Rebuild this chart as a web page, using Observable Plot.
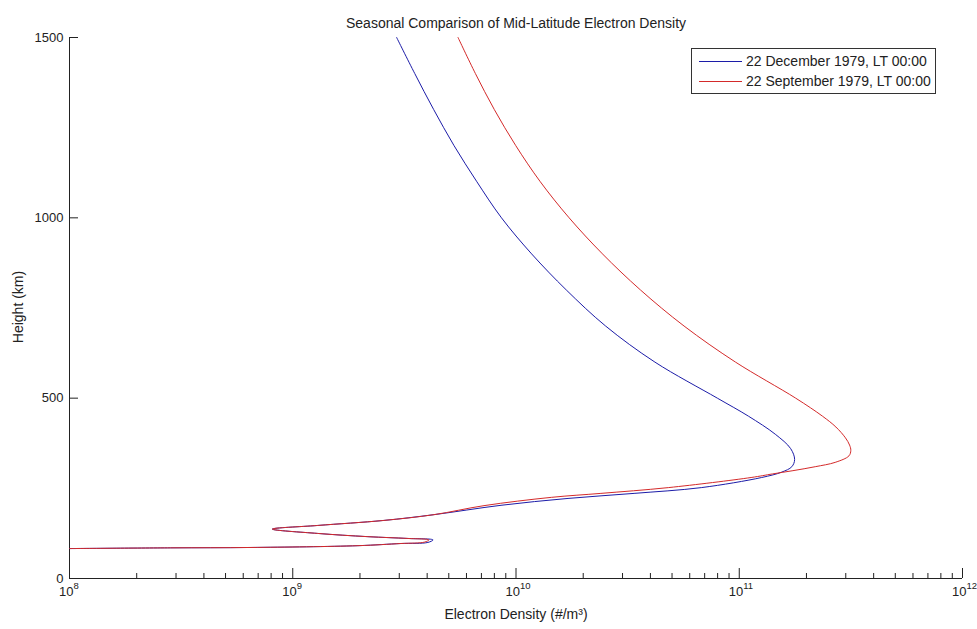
<!DOCTYPE html>
<html>
<head>
<meta charset="utf-8">
<script src="https://cdn.jsdelivr.net/npm/d3@7"></script>
<script src="https://cdn.jsdelivr.net/npm/@observablehq/plot@0.6"></script>
<style>
  html, body { margin: 0; padding: 0; background: #fff; }
  #wrap { position: relative; width: 977px; height: 629px; font-family: "Liberation Sans", Arial, sans-serif; color: #222; }
  #legend { position: absolute; left: 691px; top: 48px; width: 245px; height: 46px; border: 1px solid #333; background: #fff; box-sizing: border-box; font-size: 14px; }
  .item { position: absolute; left: 7px; height: 16px; display: flex; align-items: center; white-space: nowrap; }
  .item svg { margin-right: 4px; }
  #ylab { position: absolute; left: 18px; top: 307px; transform: translate(-50%, -50%) rotate(-90deg); font-size: 14px; white-space: nowrap; line-height: 16px; }
</style>
</head>
<body>
<div id="wrap"></div>
<script>
// ---- data ----
const title = "Seasonal Comparison of Mid-Latitude Electron Density";
const xLabel = "Electron Density (#/m³)";
const yLabel = "Height (km)";
const seriesNames = ["22 December 1979, LT 00:00", "22 September 1979, LT 00:00"];
const seriesColors = ["#1c1ca8", "#d42a2a"];

const decDensity = [2.92e9, 3.52e9, 4.28e9, 5.28e9, 6.68e9, 8.61e9, 1.175e10, 1.68e10, 2.52e10, 4.19e10, 7.98e10, 1.10e11, 1.45e11, 1.70e11, 1.77e11, 1.72e11, 1.55e11, 1.26e11, 6.76e10, 3.38e10, 1.71e10, 8.57e9, 4.29e9, 2.56e9, 1.29e9, 8.1e8, 1.29e9, 2.17e9, 3.28e9, 4.25e9, 4.03e9, 3.05e9, 1.96e9, 6.5e8, 2.84e8, 1e8];
const decHeight  = [1500, 1400, 1300, 1200, 1100, 1000, 900, 800, 700, 600, 500, 450, 400, 360, 330, 310, 295, 280, 252, 236, 222, 203, 177, 161, 147, 137, 125, 116, 111, 107, 100, 97, 91, 86, 85, 83];

const sepDensity = [5.50e9, 6.58e9, 8.00e9, 9.98e9, 1.285e10, 1.73e10, 2.44e10, 3.61e10, 5.66e10, 9.62e10, 1.79e11, 2.36e11, 2.71e11, 2.99e11, 3.12e11, 3.16e11, 3.10e11, 2.69e11, 2.19e11, 1.74e11, 1.41e11, 1.13e11, 4.81e10, 2.40e10, 1.44e10, 7.19e9, 4.29e9, 2.56e9, 1.29e9, 8.1e8, 1.29e9, 2.17e9, 3.28e9, 4.07e9, 3.9e9, 3.05e9, 1.96e9, 6.5e8, 2.84e8, 1e8];
const sepHeight  = [1500, 1400, 1300, 1200, 1100, 1000, 900, 800, 700, 600, 500, 450, 420, 390, 370, 355, 340, 322, 310, 299, 290, 280, 252, 236, 225, 202, 177, 161, 147, 137, 125, 116, 111, 107, 101, 97, 91, 86, 85, 83];

const xMajorTicks = [1e8, 1e9, 1e10, 1e11, 1e12];
const xExponents = ["8", "9", "10", "11", "12"];
const yTicks = [0, 500, 1000, 1500];

// ---- build tables ----
const dec = decDensity.map((n, i) => ({n, h: decHeight[i]}));
const sep = sepDensity.map((n, i) => ({n, h: sepHeight[i]}));
const majors = xMajorTicks.map((v, i) => ({v, e: xExponents[i]}));
const minorTicks = d3.scaleLog().domain([1e8, 1e12]).ticks().filter(t => !xMajorTicks.some(m => Math.abs(m - t) / m < 1e-9));

const font = "Liberation Sans, Arial, sans-serif";
const ink = "#222";
const chart = Plot.plot({
  width: 977,
  height: 629,
  marginLeft: 69,
  marginRight: 15,
  marginTop: 37,
  marginBottom: 51,
  style: {fontFamily: font, fontSize: "13px", color: ink, background: "#fff"},
  x: {type: "log", domain: [1e8, 1e12]},
  y: {domain: [0, 1500]},
  marks: [
    Plot.ruleY([0], {stroke: ink}),
    Plot.ruleX([1e8], {stroke: ink}),
    Plot.axisX(minorTicks, {anchor: "bottom", tickSize: -5, tickFormat: () => "", label: null, stroke: ink}),
    Plot.axisX(xMajorTicks, {anchor: "bottom", tickSize: -10, tickFormat: () => "", label: null, stroke: ink}),
    Plot.axisY(yTicks, {anchor: "left", tickSize: -9, tickFormat: () => "", label: null, stroke: ink}),
    Plot.axisY(yTicks, {anchor: "left", tickSize: 0, tickPadding: 6, tickFormat: d => String(d), label: null, fontSize: 13, fill: ink}),
    Plot.text(majors, {x: "v", frameAnchor: "bottom", text: () => "10", textAnchor: "end", dx: 4, dy: 17, fontSize: 13, fill: ink}),
    Plot.text(majors, {x: "v", frameAnchor: "bottom", text: "e", textAnchor: "start", dx: 4, dy: 10, fontSize: 9.5, fill: ink}),
    Plot.text([xLabel], {frameAnchor: "bottom", text: d => d, dy: 40, fontSize: 14, fill: ink}),
    Plot.text([title], {frameAnchor: "top", text: d => d, dy: -19, fontSize: 14, fill: ink}),
    Plot.line(dec, {x: "n", y: "h", stroke: seriesColors[0], strokeWidth: 1, curve: "catmull-rom"}),
    Plot.line(sep, {x: "n", y: "h", stroke: seriesColors[1], strokeWidth: 1, curve: "catmull-rom"})
  ]
});

const wrap = document.getElementById("wrap");
wrap.appendChild(chart);
const ylab = document.createElement("div");
ylab.id = "ylab";
ylab.textContent = yLabel;
wrap.appendChild(ylab);
const legend = document.createElement("div");
legend.id = "legend";
seriesNames.forEach((name, i) => {
  const item = document.createElement("div");
  item.className = "item";
  item.style.top = (4 + i * 20) + "px";
  item.innerHTML = `<svg width="43" height="3"><line x1="0" x2="43" y1="1.5" y2="1.5" stroke="${seriesColors[i]}" stroke-width="1"/></svg>`;
  item.appendChild(document.createTextNode(name));
  legend.appendChild(item);
});
wrap.appendChild(legend);
</script>
</body>
</html>
